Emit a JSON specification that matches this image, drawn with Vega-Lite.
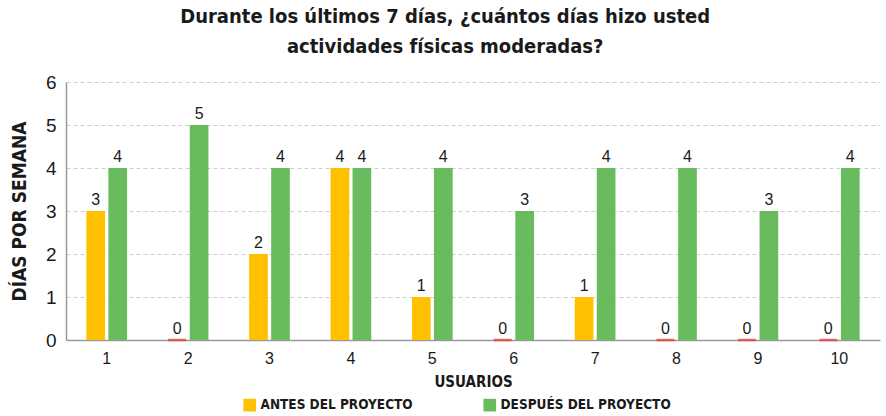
{
  "$schema": "https://vega.github.io/schema/vega-lite/v6.json",
  "width": 814,
  "height": 258,
  "autosize": {"type": "none"},
  "padding": {"left": 66, "top": 82, "right": 6, "bottom": 76},
  "background": "white",
  "config": {
    "view": {"stroke": null},
    "font": "Liberation Sans"
  },
  "title": {
    "text": ["Durante los últimos 7 días, ¿cuántos días hizo usted", "actividades físicas moderadas?"],
    "font": "DejaVu Sans Condensed",
    "fontSize": 20,
    "fontWeight": "bold",
    "color": "#1a1a1a",
    "anchor": "middle",
    "frame": "bounds",
    "lineHeight": 30,
    "offset": 16
  },
  "data": {
    "values": [
      {"usuario": 1, "grupo": "ANTES DEL PROYECTO", "dias": 3},
      {"usuario": 1, "grupo": "DESPUÉS DEL PROYECTO", "dias": 4},
      {"usuario": 2, "grupo": "ANTES DEL PROYECTO", "dias": 0},
      {"usuario": 2, "grupo": "DESPUÉS DEL PROYECTO", "dias": 5},
      {"usuario": 3, "grupo": "ANTES DEL PROYECTO", "dias": 2},
      {"usuario": 3, "grupo": "DESPUÉS DEL PROYECTO", "dias": 4},
      {"usuario": 4, "grupo": "ANTES DEL PROYECTO", "dias": 4},
      {"usuario": 4, "grupo": "DESPUÉS DEL PROYECTO", "dias": 4},
      {"usuario": 5, "grupo": "ANTES DEL PROYECTO", "dias": 1},
      {"usuario": 5, "grupo": "DESPUÉS DEL PROYECTO", "dias": 4},
      {"usuario": 6, "grupo": "ANTES DEL PROYECTO", "dias": 0},
      {"usuario": 6, "grupo": "DESPUÉS DEL PROYECTO", "dias": 3},
      {"usuario": 7, "grupo": "ANTES DEL PROYECTO", "dias": 1},
      {"usuario": 7, "grupo": "DESPUÉS DEL PROYECTO", "dias": 4},
      {"usuario": 8, "grupo": "ANTES DEL PROYECTO", "dias": 0},
      {"usuario": 8, "grupo": "DESPUÉS DEL PROYECTO", "dias": 4},
      {"usuario": 9, "grupo": "ANTES DEL PROYECTO", "dias": 0},
      {"usuario": 9, "grupo": "DESPUÉS DEL PROYECTO", "dias": 3},
      {"usuario": 10, "grupo": "ANTES DEL PROYECTO", "dias": 0},
      {"usuario": 10, "grupo": "DESPUÉS DEL PROYECTO", "dias": 4}
    ]
  },
  "encoding": {
    "x": {
      "field": "usuario",
      "type": "ordinal",
      "title": "USUARIOS",
      "scale": {"paddingInner": 0.5, "paddingOuter": 0.25},
      "axis": {
        "labelAngle": 0,
        "labelFontSize": 16,
        "labelColor": "#1a1a1a",
        "labelPadding": 10,
        "ticks": false,
        "domainColor": "#9a9a9a",
        "domainWidth": 1.5,
        "titleFont": "DejaVu Sans Condensed",
        "titleFontSize": 15,
        "titleFontWeight": "bold",
        "titleColor": "#1a1a1a",
        "titlePadding": 8
      }
    },
    "xOffset": {
      "field": "grupo",
      "type": "nominal",
      "scale": {"paddingInner": 0.15}
    },
    "y": {
      "field": "dias",
      "type": "quantitative",
      "title": "DÍAS POR SEMANA",
      "scale": {"domain": [0, 6]},
      "axis": {
        "values": [0, 1, 2, 3, 4, 5, 6],
        "labelFontSize": 19,
        "labelColor": "#1a1a1a",
        "labelPadding": 10,
        "ticks": false,
        "domainColor": "#9a9a9a",
        "domainWidth": 1.5,
        "gridColor": "#cfcfcf",
        "gridDash": [4, 3],
        "titleFont": "DejaVu Sans Condensed",
        "titleFontSize": 19,
        "titleFontWeight": "bold",
        "titleColor": "#1a1a1a",
        "titlePadding": 16
      }
    }
  },
  "layer": [
    {
      "mark": {"type": "bar"},
      "encoding": {
        "color": {
          "field": "grupo",
          "type": "nominal",
          "title": null,
          "scale": {
            "domain": ["ANTES DEL PROYECTO", "DESPUÉS DEL PROYECTO"],
            "range": ["#FFC000", "#69BC5E"]
          },
          "legend": {
            "orient": "none",
            "legendX": 177,
            "legendY": 316,
            "direction": "horizontal",
            "symbolType": "square",
            "symbolSize": 160,
            "symbolStrokeWidth": 0,
            "labelFont": "DejaVu Sans Condensed",
            "labelFontSize": 13.5,
            "labelFontWeight": "bold",
            "labelColor": "#1a1a1a",
            "labelLimit": 300,
            "columnPadding": 70
          }
        }
      }
    },
    {
      "transform": [{"filter": "datum.dias == 0"}],
      "mark": {"type": "tick", "orient": "horizontal", "color": "#E8302A", "thickness": 2.5, "size": 18},
      "encoding": {}
    },
    {
      "mark": {"type": "text", "dy": -11, "fontSize": 16, "color": "#1a1a1a"},
      "encoding": {
        "text": {"field": "dias", "type": "quantitative"}
      }
    }
  ]
}
